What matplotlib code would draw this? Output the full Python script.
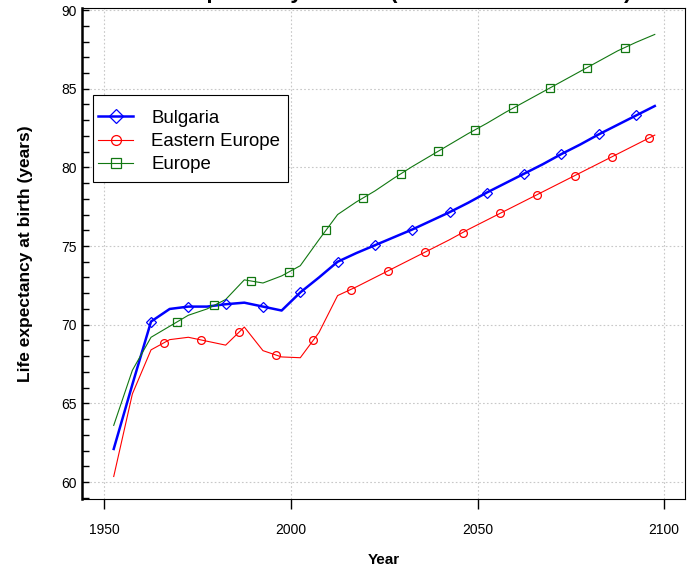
import numpy as np
import matplotlib
matplotlib.use("Agg")
import matplotlib.pyplot as plt
from matplotlib.lines import Line2D
from matplotlib.patches import Rectangle
from matplotlib.ticker import MultipleLocator

plt.rcParams['font.family'] = ['Liberation Sans', 'DejaVu Sans']

# 5-year period midpoints 1950-1955 ... 2095-2100
years = np.arange(1952.5, 2100, 5)

bulgaria = [62.1, 66.2, 70.2, 71.0, 71.15, 71.15, 71.3, 71.4, 71.15, 70.9,
            72.05, 73.0, 74.0, 74.55, 75.05, 75.55, 76.05, 76.6, 77.15, 77.75,
            78.4, 79.0, 79.6, 80.2, 80.85, 81.45, 82.1, 82.7, 83.3, 83.9]
eastern_europe = [60.35, 65.6, 68.4, 69.05, 69.2, 68.95, 68.7, 69.85, 68.35, 67.95,
                  67.9, 69.5, 71.85, 72.4, 73.0, 73.6, 74.2, 74.8, 75.4, 76.05,
                  76.65, 77.25, 77.85, 78.45, 79.05, 79.65, 80.25, 80.85, 81.45, 82.05]
europe = [63.6, 67.1, 69.2, 69.9, 70.6, 71.0, 71.6, 72.85, 72.65, 73.1,
          73.75, 75.4, 77.0, 77.8, 78.5, 79.3, 80.05, 80.75, 81.45, 82.15,
          82.8, 83.5, 84.15, 84.8, 85.45, 86.1, 86.75, 87.4, 87.95, 88.45]

labels = ["Bulgaria", "Eastern Europe", "Europe"]

series = [
    (bulgaria, "#0000ff", "D", 5.2, 1.8, 0.0, 14),
    (eastern_europe, "#ff0000", "o", 5.6, 0.8, 3.5, 14),
    (europe, "#117711", "s", 5.2, 0.8, 6.9, 13),
]

fig = plt.figure(figsize=(6.96, 5.70), dpi=100)
ax = fig.add_axes([82/696, 1-499/570, 603/696, 491/570])

handles = []
for vals, col, mk, ms, lw, off, nmk in series:
    ax.plot(years, vals, color=col, lw=lw, zorder=3)
    # markers spread along the line, staggered between series
    mx = 1962.5 + off + 10*np.arange(nmk)
    ax.plot(mx, np.interp(mx, years, vals), ls='none', marker=mk, ms=ms,
            mfc='none', mec=col, mew=0.9, zorder=4)
    handles.append(Line2D([], [], color=col, lw=lw, marker=mk, ms=ms+1.5,
                          mfc='none', mec=col, mew=0.9))

ax.set_xlim(1944, 2105.6)
ax.set_ylim(58.92, 90.13)
ax.set_xticks([1950, 2000, 2050, 2100])
ax.yaxis.set_major_locator(MultipleLocator(5))
ax.yaxis.set_minor_locator(MultipleLocator(1))
ax.tick_params(axis='y', which='both', direction='in', length=5, width=1,
               labelsize=10, pad=4)
ax.tick_params(axis='x', which='major', direction='out', length=7, width=1,
               labelsize=10, pad=10)
ax.grid(True, color='#c8c8c8', ls=(0, (1.5, 2)), lw=0.8)
ax.set_axisbelow(True)

for s in ['top', 'right', 'bottom']:
    ax.spines[s].set_linewidth(0.8)
ax.spines['left'].set_linewidth(1.8)

ax.set_xlabel("Year", fontsize=11, fontweight='bold', labelpad=12)
ax.set_ylabel("Life expectancy at birth (years)", fontsize=12.5,
              fontweight='bold', labelpad=20)
ax.text(0.5, 1 + 10/491, "Life expectancy at birth (both sexes combined)",
        transform=ax.transAxes, ha='center', va='baseline', fontsize=16,
        fontweight='bold', clip_on=False)

# legend frame drawn by hand, entries without frame
ax.add_patch(Rectangle((0.0177, 0.6456), 0.3239, 0.1772, transform=ax.transAxes,
                       facecolor='white', edgecolor='black', lw=0.8, zorder=5))
leg = ax.legend(handles, labels, loc='center left',
                bbox_to_anchor=(0.0265, 0.7280), borderaxespad=0, borderpad=0,
                fontsize=13.4, frameon=False, handlelength=1.9,
                handletextpad=0.95, labelspacing=0.33)
leg.set_zorder(6)

fig.savefig("out.png", dpi=100)
